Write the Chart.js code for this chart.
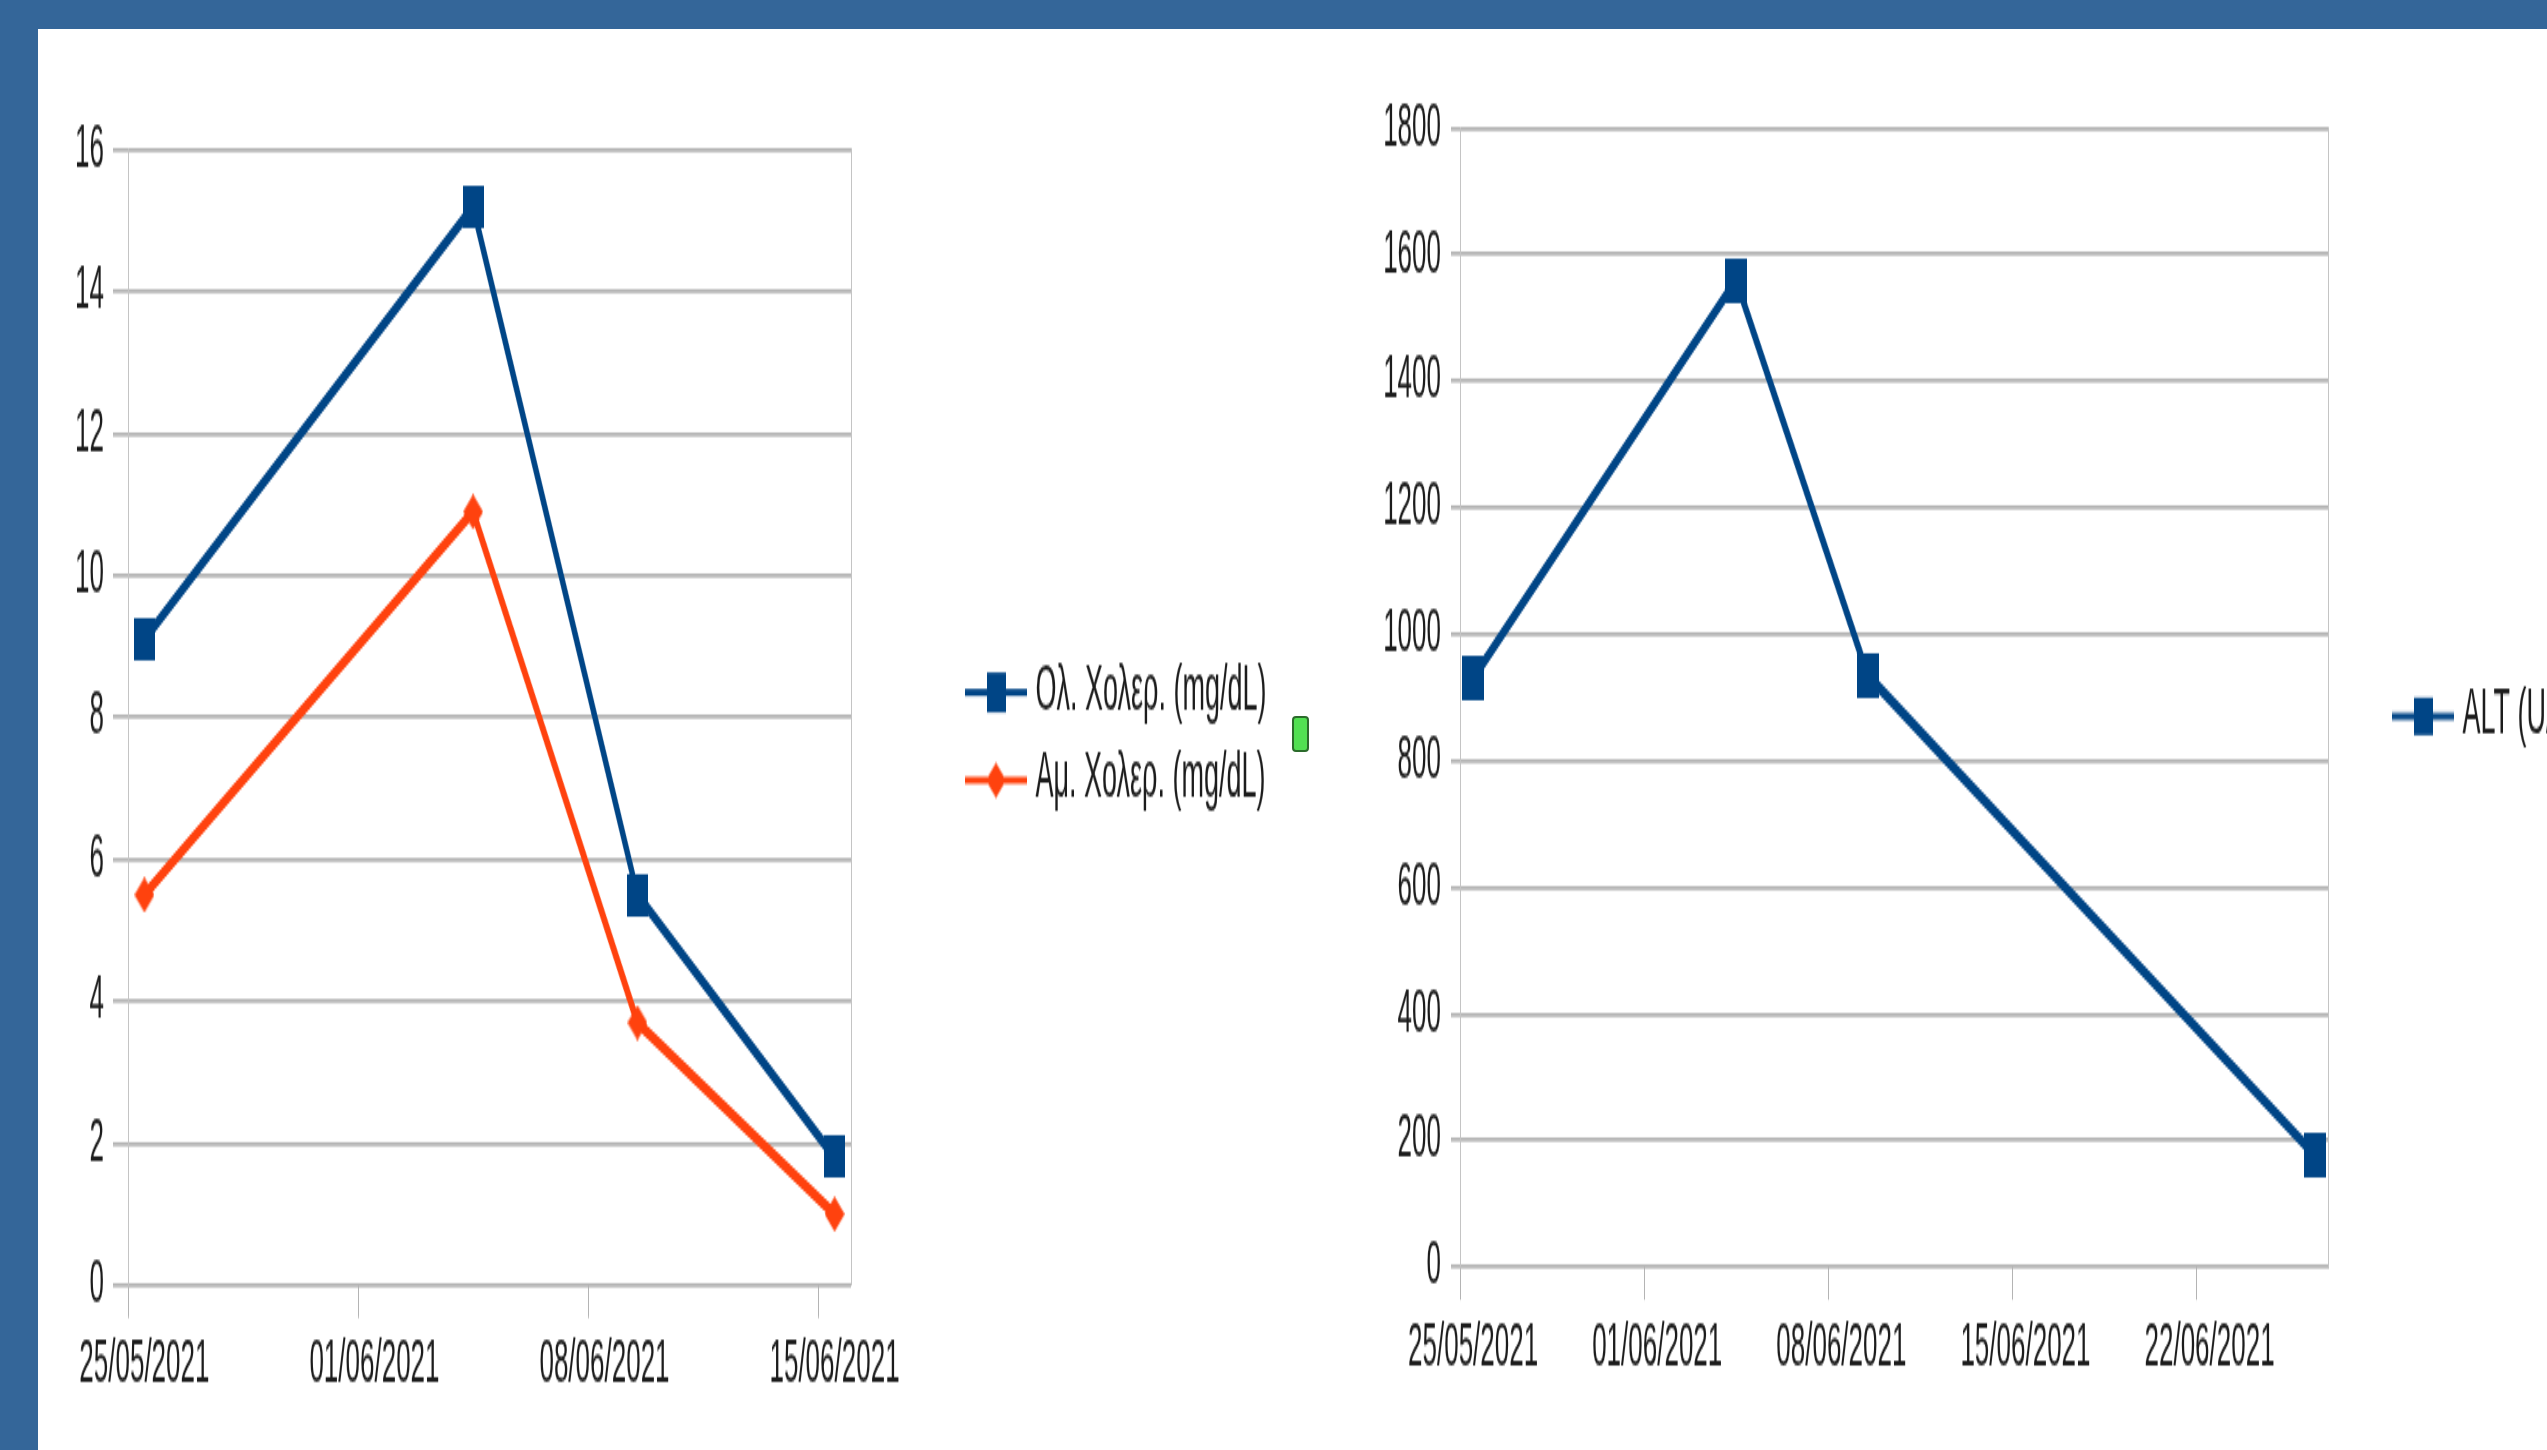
<!DOCTYPE html>
<html>
<head>
<meta charset="utf-8">
<title>Χολερυθρίνη και ALT</title>
<script src="https://cdn.jsdelivr.net/npm/chart.js@4.4.1/dist/chart.umd.min.js"></script>
<style>
  html, body { margin: 0; padding: 0; width: 2547px; height: 1450px; overflow: hidden; background: #346699; }
  #sheet { position: absolute; left: 38px; top: 29px; right: 0; bottom: 0; background: #ffffff; }
  /* the slide stretches both chart images vertically */
  .stretch { position: absolute; top: 0; transform-origin: 0 0; transform: scaleY(2.35008); }
  .stretch canvas { display: block; }
  #handle { position: absolute; left: 1292px; top: 716px; width: 13px; height: 32px;
            background: #52e052; border: 2px solid #2b6b2b; border-radius: 4px; }
</style>
</head>
<body>
<div id="sheet"></div>
<div class="stretch" style="left:0px"><canvas id="bili" width="1340" height="617"></canvas></div>
<div class="stretch" style="left:1340px"><canvas id="alt" width="1300" height="617"></canvas></div>
<div id="handle"></div>

<script>
// ---- data ---------------------------------------------------------------
const biliDates   = ['2021-05-25', '2021-06-04', '2021-06-09', '2021-06-15'];
const totalBili   = [9.1, 15.2, 5.5, 1.8];
const directBili  = [5.5, 10.9, 3.7, 1.0];
const biliLabels  = ['Ολ. Χολερ. (mg/dL)', 'Αμ. Χολερ. (mg/dL)'];
const biliRange   = ['2021-05-25', '2021-06-16'];
const biliXTicks  = ['2021-05-25', '2021-06-01', '2021-06-08', '2021-06-15'];
const biliYTicks  = [0, 2, 4, 6, 8, 10, 12, 14, 16];

const altDates    = ['2021-05-25', '2021-06-04', '2021-06-09', '2021-06-26'];
const altValues   = [930, 1560, 935, 177];
const altLabel    = 'ALT (U/L)';
const altRange    = ['2021-05-25', '2021-06-27'];
const altXTicks   = ['2021-05-25', '2021-06-01', '2021-06-08', '2021-06-15', '2021-06-22'];
const altYTicks   = [0, 200, 400, 600, 800, 1000, 1200, 1400, 1600, 1800];

// ---- helpers ------------------------------------------------------------
const DAY = 86400000;
const EPOCH = Date.UTC(2021, 4, 25);
const BLUE = '#004586';
const ORANGE = '#ff420e';
const GRID = '#b4b4b4';
const FRAME = '#c4c4c4';
const TEXT = '#1c1c1c';

Chart.defaults.font.family = "'Liberation Sans', Arial, sans-serif";

// day number on the date axis
const dayOf = d => (Date.parse(d + 'T00:00:00Z') - EPOCH) / DAY;
const pad2 = n => String(n).padStart(2, '0');
function fmtDate(v) {
  const t = new Date(EPOCH + v * DAY);
  return pad2(t.getUTCDate()) + '/' + pad2(t.getUTCMonth() + 1) + '/' + t.getUTCFullYear();
}
// each reading sits in the middle of its day slot
const series = (dates, values) => dates.map((d, i) => ({ x: dayOf(d) + 0.5, y: values[i] }));

function rectMark(w, h, color) {
  const c = document.createElement('canvas');
  c.width = w; c.height = h;
  const g = c.getContext('2d');
  g.fillStyle = color; g.fillRect(0, 0, w, h);
  return c;
}
function diamondMark(w, h, color) {
  const c = document.createElement('canvas');
  c.width = w; c.height = h;
  const g = c.getContext('2d');
  g.fillStyle = color;
  g.beginPath();
  g.moveTo(w / 2, 0); g.lineTo(w, h / 2); g.lineTo(w / 2, h); g.lineTo(0, h / 2);
  g.closePath(); g.fill();
  return c;
}
// legend key: a short line with the marker on it
function legendKey(mark, width, lineW, color) {
  const c = document.createElement('canvas');
  c.width = width; c.height = mark.height + 2;
  const g = c.getContext('2d');
  g.fillStyle = color;
  g.fillRect(0, (c.height - lineW) / 2, width, lineW);
  g.drawImage(mark, Math.round((width - mark.width) / 2), 1);
  return c;
}

function buildOptions(o) {
  const padding = { top: o.top, bottom: o.bottom, left: 0, right: 60 };
  return {
    responsive: false,
    animation: false,
    events: [],
    layout: { padding },
    scales: {
      x: {
        type: 'linear',
        min: dayOf(o.range[0]), max: dayOf(o.range[1]),
        afterBuildTicks: s => { s.ticks = o.xTicks.map(d => ({ value: dayOf(d) })); },
        afterFit: s => { s.height = 60; },
        grid: { drawOnChartArea: false, drawTicks: true, tickLength: 14, color: GRID, lineWidth: 1 },
        border: { display: false },
        ticks: {
          autoSkip: false, maxRotation: 0, minRotation: 0,
          padding: o.xPad, labelOffset: o.labelOffset,
          color: TEXT, font: { size: 26 },
          callback: v => fmtDate(v)
        }
      },
      y: {
        type: 'linear',
        min: o.yTicks[0], max: o.yTicks[o.yTicks.length - 1],
        afterBuildTicks: s => { s.ticks = o.yTicks.map(v => ({ value: v })); },
        afterFit: s => { s.width = o.yWidth; },
        grid: { color: GRID, lineWidth: 1.7, tickLength: o.yTickLen },
        border: { display: true, color: FRAME, width: 1 },
        ticks: { padding: o.yPad, color: TEXT, font: { size: 26 }, callback: v => String(v) }
      },
      frame: {
        type: 'linear', position: 'right',
        min: o.yTicks[0], max: o.yTicks[o.yTicks.length - 1],
        afterFit: s => { s.width = o.gap; },
        grid: { drawOnChartArea: false, drawTicks: false },
        border: { display: true, color: FRAME, width: 1 },
        ticks: { display: false }
      }
    },
    plugins: {
      tooltip: { enabled: false },
      legend: {
        position: 'right',
        align: 'center',
        fullSize: false,
        maxWidth: 800,
        title: { display: true, text: '', font: { size: 10, lineHeight: 1.2 }, padding: 2 },
        labels: {
          usePointStyle: true,
          pointStyleWidth: 52,
          padding: 10.4,
          color: TEXT,
          font: { size: 27 },
          generateLabels: chart =>
            Chart.defaults.plugins.legend.labels.generateLabels(chart)
              .map((item, i) => Object.assign(item, { pointStyle: o.keys[i] }))
        }
      }
    }
  };
}

// keep the plot's right edge where the layout wants it
function pinPlotRight(chart, right) {
  for (let i = 0; i < 4; i++) {
    const d = chart.chartArea.right - right;
    if (Math.abs(d) < 0.05) break;
    chart.config.options.layout.padding.right += d;
    chart.update();
  }
}

// ---- bilirubin chart ----------------------------------------------------
const blueSq = rectMark(21, 18, BLUE);
const orangeDia = diamondMark(20, 15, ORANGE);
const biliChart = new Chart(document.getElementById('bili'), {
  type: 'line',
  data: {
    datasets: [
      { label: biliLabels[0], data: series(biliDates, totalBili), borderColor: BLUE, backgroundColor: BLUE,
        borderWidth: 5, tension: 0, pointStyle: blueSq, pointRadius: 10, clip: false },
      { label: biliLabels[1], data: series(biliDates, directBili), borderColor: ORANGE, backgroundColor: ORANGE,
        borderWidth: 5, tension: 0, pointStyle: orangeDia, pointRadius: 10, clip: false }
    ]
  },
  options: buildOptions({
    top: 63.8, bottom: 10.2, range: biliRange, xTicks: biliXTicks, yTicks: biliYTicks,
    xPad: 4, labelOffset: 16.4, yWidth: 128, yTickLen: 15, yPad: 9, gap: 108.6,
    keys: [legendKey(rectMark(19, 17, BLUE), 62, 3, BLUE), legendKey(diamondMark(20, 15, ORANGE), 62, 3, ORANGE)]
  })
});
pinPlotRight(biliChart, 851);

// ---- ALT chart ----------------------------------------------------------
const altChart = new Chart(document.getElementById('alt'), {
  type: 'line',
  data: {
    datasets: [
      { label: altLabel, data: series(altDates, altValues), borderColor: BLUE, backgroundColor: BLUE,
        borderWidth: 5, tension: 0, pointStyle: rectMark(22, 19, BLUE), pointRadius: 10, clip: false }
    ]
  },
  options: buildOptions({
    top: 54.5, bottom: 17.9, range: altRange, xTicks: altXTicks, yTicks: altYTicks,
    xPad: 5, labelOffset: 13.1, yWidth: 120, yTickLen: 9, yPad: 10, gap: 58.6,
    keys: [legendKey(rectMark(19, 16, BLUE), 62, 3, BLUE)]
  })
});
pinPlotRight(altChart, 988);
</script>
</body>
</html>
